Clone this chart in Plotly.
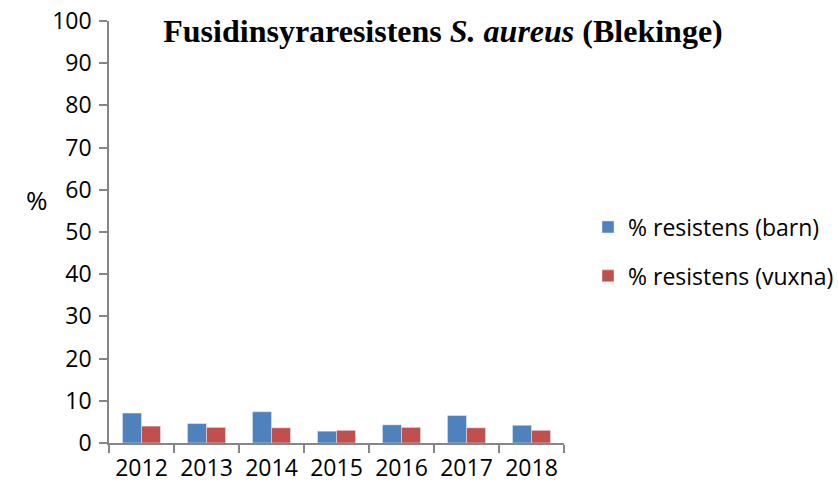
import plotly.graph_objects as go

years = ["2012", "2013", "2014", "2015", "2016", "2017", "2018"]
barn = [7.1, 4.6, 7.4, 2.8, 4.3, 6.5, 4.2]
vuxna = [4.0, 3.7, 3.6, 3.0, 3.7, 3.6, 3.0]
y_ticks = [0, 10, 20, 30, 40, 50, 60, 70, 80, 90, 100]

fig = go.Figure()
fig.add_trace(go.Bar(x=years, y=barn, name="% resistens (barn)",
                     marker=dict(color="#4F81BD"), legendgroup="a"))
fig.add_trace(go.Bar(x=years, y=vuxna, name="% resistens (vuxna)",
                     marker=dict(color="#C0504D"), legendgroup="b"))

font_main = "Open Sans, Liberation Sans, sans-serif"
L, R, T, B = 109, 564, 21, 443
W, H = R - L, B - T
fig.update_layout(
    width=838, height=489,
    margin=dict(l=L, r=838 - R, t=T, b=489 - B, autoexpand=False),
    paper_bgcolor="white", plot_bgcolor="white",
    barmode="group", bargap=0.415, bargroupgap=0,
    font=dict(family=font_main, size=23, color="black"),
    title=dict(text="<b>Fusidinsyraresistens <i>S. aureus</i> (Blekinge)</b>",
               font=dict(family="Liberation Serif, Times New Roman, serif", size=32, color="black"),
               x=(443 - L) / W, xref="paper", xanchor="center",
               y=1 - 31 / 489, yref="container", yanchor="middle"),
    legend=dict(x=(588 - L) / W, xanchor="left", y=(B - 251.5) / H, yanchor="middle",
                font=dict(family=font_main, size=23, color="black"),
                tracegroupgap=16, traceorder="grouped", bgcolor="rgba(0,0,0,0)"),
    xaxis=dict(type="category", showline=True, linecolor="#868686", linewidth=1.5,
               ticks="outside", tickson="boundaries", ticklen=8, tickcolor="#868686",
               tickwidth=1.5, showgrid=False, tickfont=dict(size=23), automargin=False,
               ticklabelstandoff=4),
    yaxis=dict(range=[0, 100], tickvals=y_ticks, showline=True, linecolor="#868686",
               linewidth=1.5, ticks="outside", ticklen=8, tickcolor="#868686", tickwidth=1.5,
               showgrid=False, zeroline=False, tickfont=dict(size=23), automargin=False,
               ticklabelstandoff=3),
    annotations=[dict(text="%", x=(24 - L) / W, y=(B - 200) / H, xref="paper", yref="paper",
                      showarrow=False, font=dict(size=26))],
)

fig.write_html("out.html", config={"displayModeBar": False},
               post_script="document.body.style.margin='0';")
